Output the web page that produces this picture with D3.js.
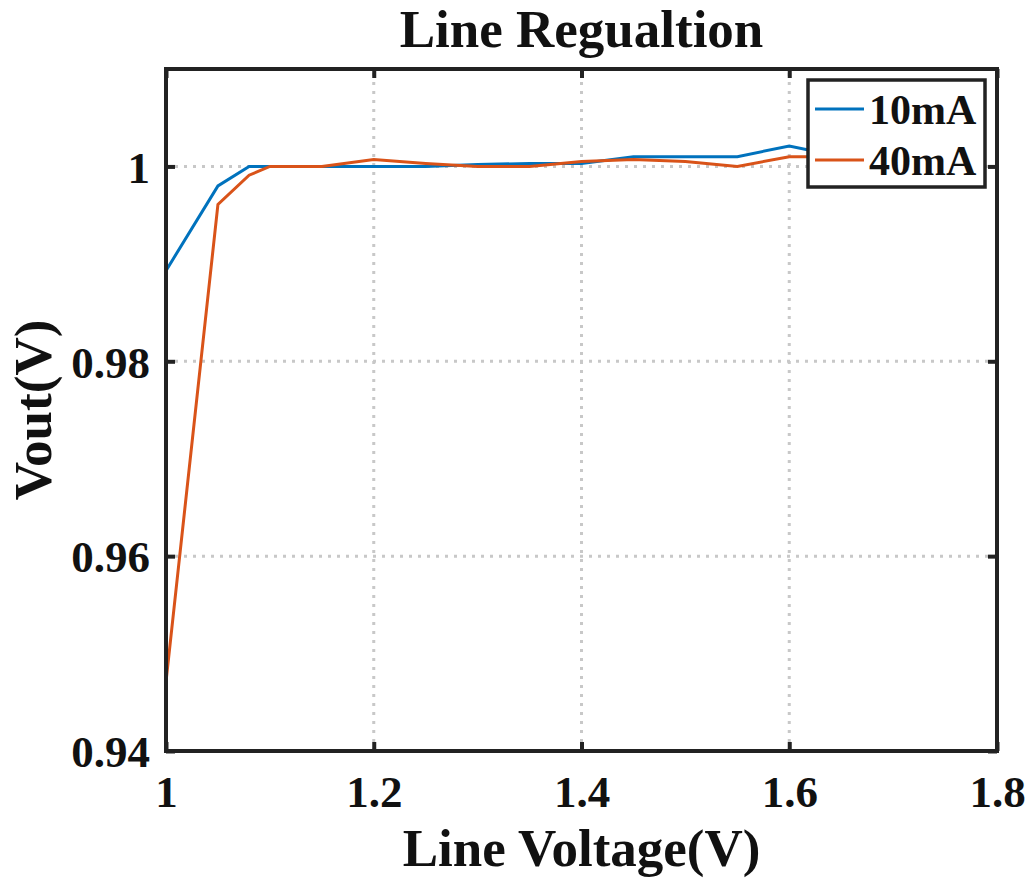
<!DOCTYPE html>
<html><head><meta charset="utf-8">
<script src="https://cdn.jsdelivr.net/npm/d3@7"></script>
<style>body{margin:0;background:#fff}</style>
</head><body>
<svg id="c" width="1036" height="886"></svg>
<script>
const xVals   = [1.0, 1.05, 1.08, 1.1, 1.15, 1.2, 1.25, 1.3, 1.35, 1.4, 1.45, 1.5, 1.55, 1.6, 1.65, 1.7];
const vout10  = [0.9893, 0.998, 1.0, 1.0, 1.0, 1.0, 1.0, 1.0002, 1.0003, 1.0003, 1.001, 1.001, 1.001, 1.0021, 1.001, 1.001];
const vout40  = [0.9471, 0.9961, 0.9991, 1.0, 1.0, 1.0007, 1.0003, 1.0, 1.0, 1.0005, 1.0007, 1.0005, 1.0, 1.001, 1.001, 1.001];
const seriesNames = ["10mA", "40mA"];
const xTicks = [1, 1.2, 1.4, 1.6, 1.8];
const yTicks = [0.94, 0.96, 0.98, 1.0];
const colors = ["#0072BD", "#D95319"];

const svg = d3.select("#c");
const L = 166, R = 997, T = 69, B = 751;
const font = "'Liberation Serif','Times New Roman',serif";
const x = d3.scaleLinear().domain([1, 1.8]).range([L, R]);
const y = d3.scaleLinear().domain([0.94, 1.01]).range([B, T]);

// grid
const grid = svg.append("g").attr("stroke", "#c8c8c8").attr("stroke-width", 3).attr("stroke-dasharray", "3,6");
xTicks.slice(1, -1).forEach(t => grid.append("line").attr("x1", x(t)).attr("x2", x(t)).attr("y1", B).attr("y2", T));
yTicks.slice(1).forEach(t => grid.append("line").attr("x1", L).attr("x2", R).attr("y1", y(t)).attr("y2", y(t)));

// lines
const line = d3.line().x(d => x(d[0])).y(d => y(d[1]));
[vout10, vout40].forEach((s, i) => {
  svg.append("path").datum(xVals.map((v, k) => [v, s[k]]))
    .attr("d", line).attr("fill", "none").attr("stroke", colors[i]).attr("stroke-width", 3);
});

// axes (ticks inward, all four sides)
const tickLen = 9;
const axB = svg.append("g").attr("transform", `translate(0,${B})`).call(d3.axisBottom(x).tickValues(xTicks).tickSize(-tickLen).tickPadding(22).tickFormat(d3.format("")));
const axT = svg.append("g").attr("transform", `translate(0,${T})`).call(d3.axisTop(x).tickValues(xTicks).tickSize(-tickLen).tickFormat(""));
const axL = svg.append("g").attr("transform", `translate(${L},0)`).call(d3.axisLeft(y).tickValues(yTicks).tickSize(-tickLen).tickPadding(16).tickFormat(d => d === 1 ? "1" : d3.format(".2f")(d)));
const axR = svg.append("g").attr("transform", `translate(${R},0)`).call(d3.axisRight(y).tickValues(yTicks).tickSize(-tickLen).tickFormat(""));
[axB, axT, axL, axR].forEach(a => {
  a.select(".domain").remove();
  a.selectAll(".tick line").attr("stroke", "#222").attr("stroke-width", 4);
  a.selectAll("text").attr("font-family", font).attr("font-weight", "bold").attr("font-size", 45).attr("fill", "#111");
});
axL.selectAll("text").attr("dy", "0.35em");
axB.selectAll("text").attr("dy", "0.75em");

// frame
svg.append("rect").attr("x", L).attr("y", T).attr("width", R - L).attr("height", B - T)
  .attr("fill", "none").attr("stroke", "#222").attr("stroke-width", 4);

// legend
const lg = svg.append("g");
lg.append("rect").attr("x", 808).attr("y", 80).attr("width", 177).attr("height", 107)
  .attr("fill", "#fff").attr("stroke", "#222").attr("stroke-width", 3.5);
seriesNames.forEach((n, i) => {
  const yy = 109 + i * 51;
  lg.append("line").attr("x1", 815).attr("x2", 864).attr("y1", yy).attr("y2", yy).attr("stroke", colors[i]).attr("stroke-width", 3);
  lg.append("text").attr("x", 869).attr("y", yy).attr("dy", "0.35em").text(n)
    .attr("font-family", font).attr("font-weight", "bold").attr("font-size", 42).attr("fill", "#111");
});

// titles
svg.append("text").attr("x", (L + R) / 2).attr("y", 47).attr("text-anchor", "middle").text("Line Regualtion")
  .attr("font-family", font).attr("font-weight", "bold").attr("font-size", 53).attr("fill", "#111");
svg.append("text").attr("x", (L + R) / 2).attr("y", 866).attr("text-anchor", "middle").text("Line Voltage(V)")
  .attr("font-family", font).attr("font-weight", "bold").attr("font-size", 53).attr("fill", "#111");
svg.append("text").attr("transform", `translate(51,${(T + B) / 2}) rotate(-90)`).attr("text-anchor", "middle").text("Vout(V)")
  .attr("font-family", font).attr("font-weight", "bold").attr("font-size", 53).attr("fill", "#111");
</script>
</body></html>
